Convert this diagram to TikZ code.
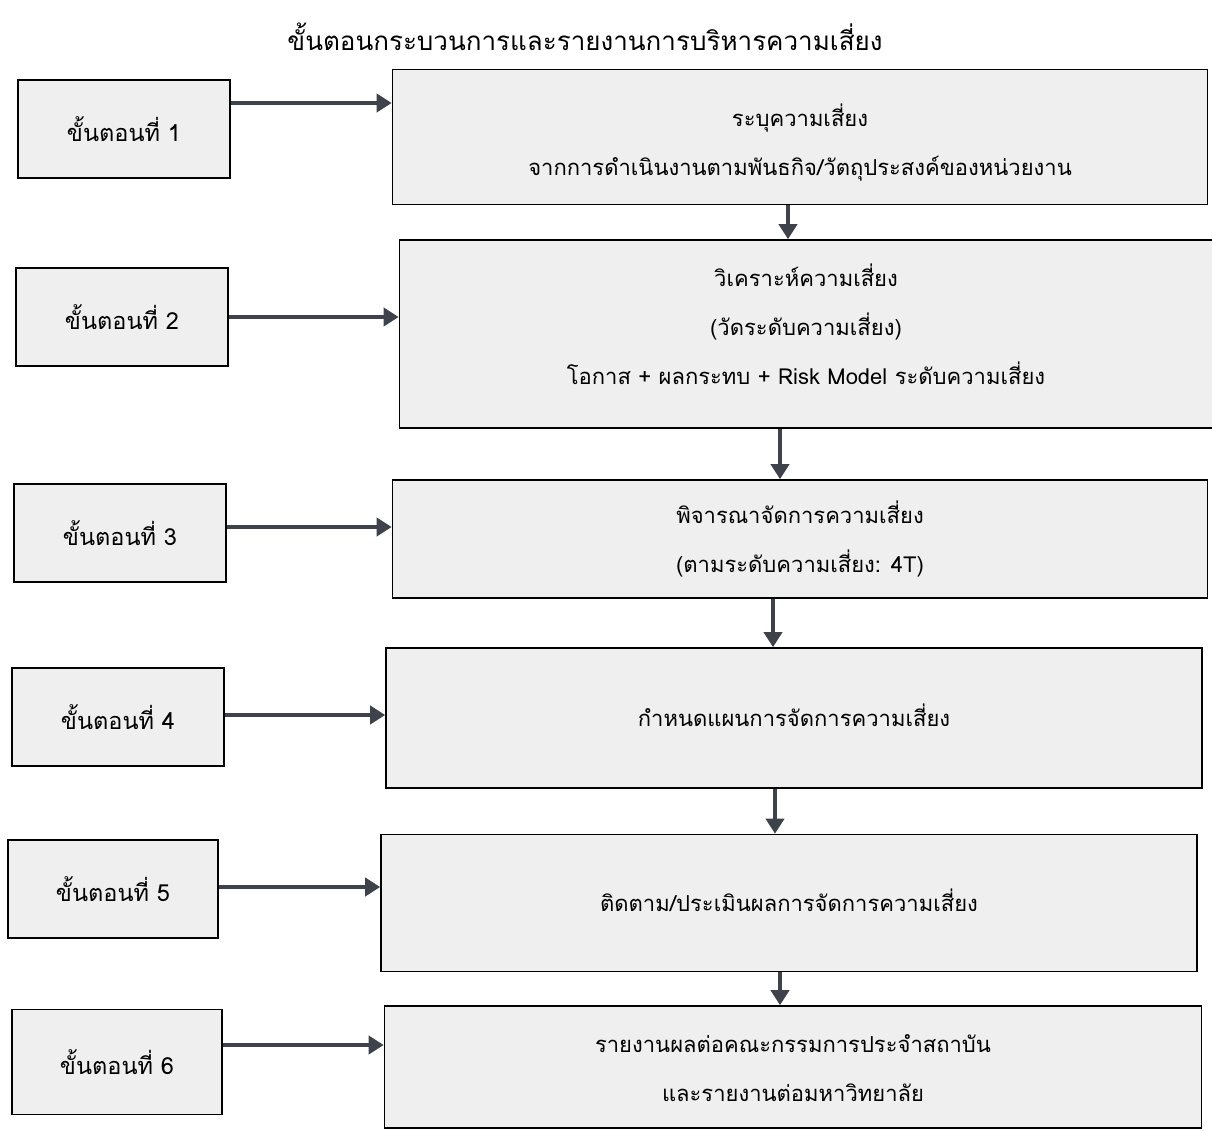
\documentclass[tikz,border=0pt]{standalone}
\usepackage{fontspec}
\setmainfont[Script=Thai]{Loma}
\usetikzlibrary{arrows.meta}

\definecolor{boxgray}{HTML}{EFEFEF}
\definecolor{flowgray}{HTML}{3E434B}

\tikzset{
  stepbox/.style={draw=black, line width=1.6pt, fill=boxgray,
    minimum width=212pt, minimum height=98pt, inner sep=0pt,
    font=\fontsize{23.5}{28}\selectfont},
  taskbox/.style={draw=black, line width=1.6pt, fill=boxgray,
    minimum width=815pt, inner sep=0pt},
  tasktext/.style={inner sep=0pt, align=center,
    font=\fontsize{22}{49}\selectfont},
  flow/.style={draw=flowgray, line width=4.5pt,
    -{Triangle[length=15pt,width=18pt]}}
}

\begin{document}
\begin{tikzpicture}[x=1pt,y=-1pt]
\useasboundingbox (0,0) rectangle (1212,1131);

% Title
\node (title) at (585,37) {\fontsize{26}{30}\selectfont ขั้นตอนกระบวนการและรายงานการบริหารความเสี่ยง};

% Steps on the left
\node[stepbox] (l1) at (124,129) {ขั้นตอนที่ 1};
\node[stepbox] (l2) at (122,317) {ขั้นตอนที่ 2};
\node[stepbox] (l3) at (120,533) {ขั้นตอนที่ 3};
\node[stepbox] (l4) at (118,717) {ขั้นตอนที่ 4};
\node[stepbox, minimum width=210pt] (l5) at (113,889) {ขั้นตอนที่ 5};
\node[stepbox, minimum width=210pt, minimum height=105pt] (l6) at (117,1062) {ขั้นตอนที่ 6};

% Tasks on the right
\node[taskbox, minimum height=135pt] (r1) at (800,137) {};
\node[taskbox, minimum width=813pt, minimum height=188pt] (r2) at (806,334) {};
\node[taskbox, minimum height=118pt] (r3) at (800,539) {};
\node[taskbox, minimum width=816pt, minimum height=140pt] (r4) at (794,718) {};
\node[taskbox, minimum width=816pt, minimum height=137pt] (r5) at (789,903) {};
\node[taskbox, minimum width=817pt, minimum height=122pt] (r6) at (793,1067) {};

\node[tasktext] (t1) at (800,143)
  {ระบุความเสี่ยง\\จากการดำเนินงานตามพันธกิจ/วัตถุประสงค์ของหน่วยงาน};
\node[tasktext] (t2) at (806,324)
  {วิเคราะห์ความเสี่ยง\\(วัดระดับความเสี่ยง)\\โอกาส + ผลกระทบ + Risk Model ระดับความเสี่ยง};
\node[tasktext] (t3) at (800,539)
  {พิจารณาจัดการความเสี่ยง\\(ตามระดับความเสี่ยง: 4T)};
\node[tasktext] (t4) at (794,715) {กำหนดแผนการจัดการความเสี่ยง};
\node[tasktext] (t5) at (789,900) {ติดตาม/ประเมินผลการจัดการความเสี่ยง};
\node[tasktext] (t6) at (793,1068)
  {รายงานผลต่อคณะกรรมการประจำสถาบัน\\และรายงานต่อมหาวิทยาลัย};

% Arrows from the steps
\coordinate (h1) at ([yshift=26pt]l1.east);
\coordinate (h2) at (l2.east);
\coordinate (h3) at ([yshift=6pt]l3.east);
\coordinate (h4) at ([yshift=2pt]l4.east);
\coordinate (h5) at ([yshift=2pt]l5.east);
\coordinate (h6) at ([yshift=17pt]l6.east);
\draw[flow] (h1) -- (h1 -| r1.west);
\draw[flow] (h2) -- (h2 -| r2.west);
\draw[flow] (h3) -- (h3 -| r3.west);
\draw[flow] (h4) -- (h4 -| r4.west);
\draw[flow] (h5) -- (h5 -| r5.west);
\draw[flow] (h6) -- (h6 -| r6.west);

% Arrows down the tasks
\coordinate (v1) at ([xshift=-12pt]r1.south);
\coordinate (v2) at ([xshift=-26pt]r2.south);
\coordinate (v3) at ([xshift=-27pt]r3.south);
\coordinate (v4) at ([xshift=-19pt]r4.south);
\coordinate (v5) at ([xshift=-9pt]r5.south);
\draw[flow] (v1) -- (v1 |- r2.north);
\draw[flow] (v2) -- (v2 |- r3.north);
\draw[flow] (v3) -- (v3 |- r4.north);
\draw[flow] (v4) -- (v4 |- r5.north);
\draw[flow] (v5) -- (v5 |- r6.north);
\end{tikzpicture}
\end{document}
